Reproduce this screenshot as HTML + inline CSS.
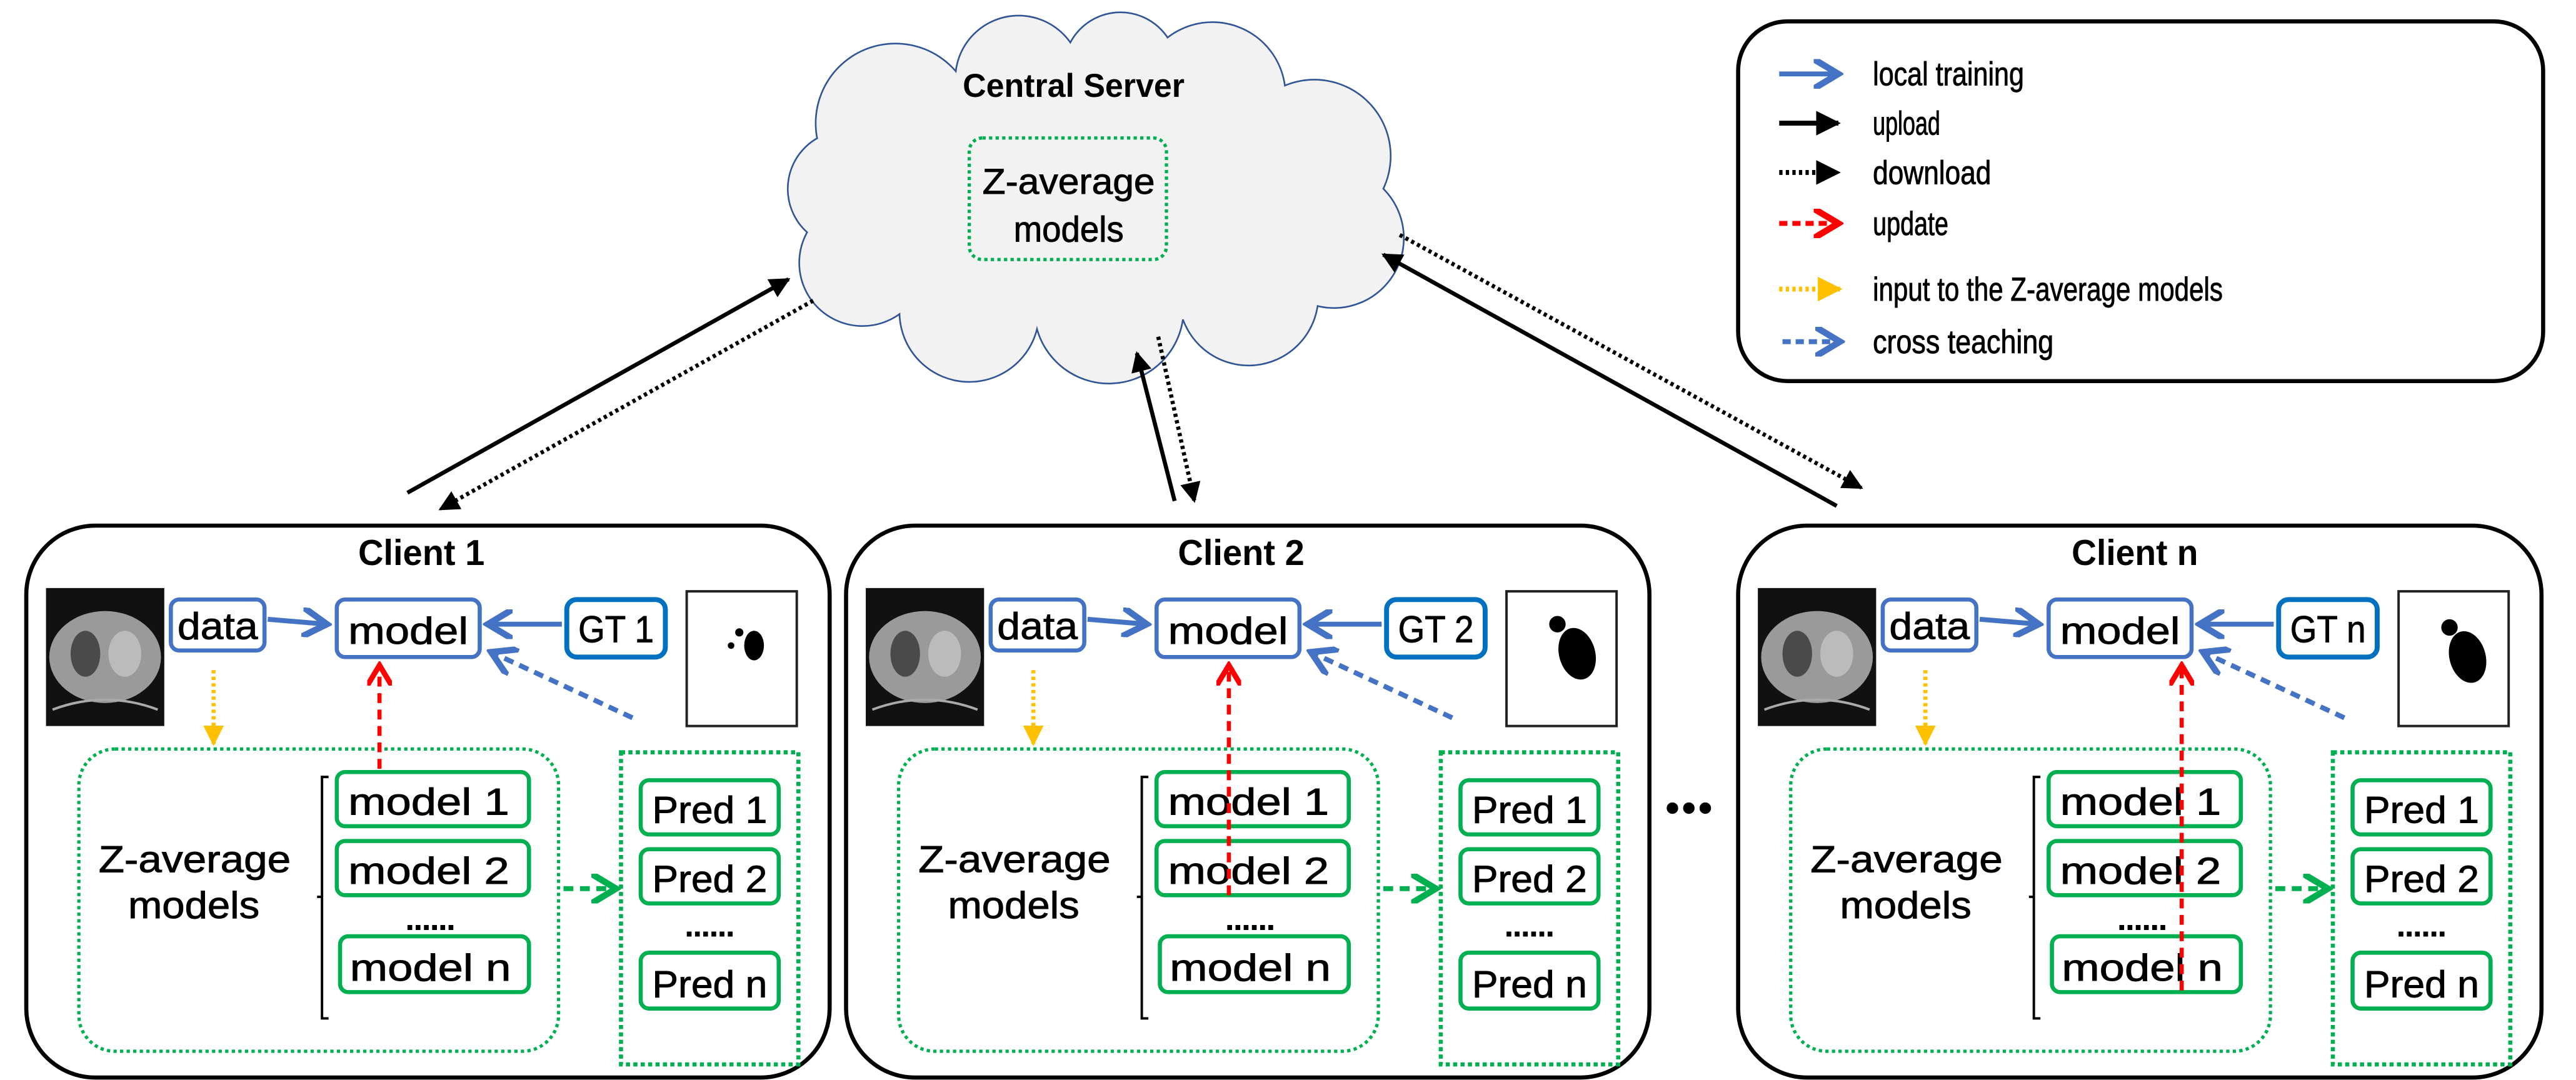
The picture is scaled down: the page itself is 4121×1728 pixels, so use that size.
<!DOCTYPE html>
<html><head><meta charset="utf-8"><style>
html,body{margin:0;padding:0;background:#fff}
svg{display:block}
text{font-family:"Liberation Sans",sans-serif;fill:#000;stroke:#000;stroke-width:0.35}
.t{font-weight:bold;stroke-width:0}
</style></head><body>
<svg width="4121" height="1728" viewBox="0 0 1568 657.5" preserveAspectRatio="none" xmlns="http://www.w3.org/2000/svg">
<defs>
<marker id="ab" markerWidth="6" markerHeight="6" refX="5" refY="3" orient="auto" markerUnits="strokeWidth"><path d="M0,0 L5,3 L0,6" fill="none" stroke="#4472C4" stroke-width="1.3"/></marker>
<marker id="ak" markerWidth="5" markerHeight="5" refX="4.5" refY="2.5" orient="auto" markerUnits="strokeWidth"><path d="M0,0 L5,2.5 L0,5 z" fill="#000"/></marker>
<marker id="ar" markerWidth="6" markerHeight="6" refX="5" refY="3" orient="auto" markerUnits="strokeWidth"><path d="M0,0 L5,3 L0,6" fill="none" stroke="#f00" stroke-width="1.3"/></marker>
<marker id="ay" markerWidth="5" markerHeight="5" refX="4.5" refY="2.5" orient="auto" markerUnits="strokeWidth"><path d="M0,0 L5,2.5 L0,5 z" fill="#FFC000"/></marker>
<marker id="ag" markerWidth="6" markerHeight="6" refX="5" refY="3" orient="auto" markerUnits="strokeWidth"><path d="M0,0 L5,3 L0,6" fill="none" stroke="#00B050" stroke-width="1.3"/></marker>
</defs>

<g stroke="#2F5597" stroke-width="2" fill="#2F5597">
<circle cx="545" cy="75" r="48"/><circle cx="620" cy="48" r="38"/><circle cx="682" cy="42" r="34"/><circle cx="738" cy="58" r="44"/><circle cx="800" cy="95" r="46"/><circle cx="812" cy="145" r="42"/><circle cx="760" cy="180" r="42"/><circle cx="675" cy="188" r="45"/><circle cx="590" cy="190" r="42"/><circle cx="525" cy="160" r="38"/><circle cx="515" cy="115" r="35"/>
</g>
<g fill="#f2f2f2">
<circle cx="545" cy="75" r="48"/><circle cx="620" cy="48" r="38"/><circle cx="682" cy="42" r="34"/><circle cx="738" cy="58" r="44"/><circle cx="800" cy="95" r="46"/><circle cx="812" cy="145" r="42"/><circle cx="760" cy="180" r="42"/><circle cx="675" cy="188" r="45"/><circle cx="590" cy="190" r="42"/><circle cx="525" cy="160" r="38"/><circle cx="515" cy="115" r="35"/><ellipse cx="665" cy="120" rx="150" ry="80"/>
</g>
<text class="t" x="586" y="59" font-size="20" textLength="135" lengthAdjust="spacingAndGlyphs">Central Server</text>
<rect x="590" y="84" width="120" height="74" rx="8" fill="none" stroke="#00B050" stroke-width="2" stroke-dasharray="2,2"/>
<text x="598" y="118" font-size="22" textLength="105" lengthAdjust="spacingAndGlyphs">Z-average</text>
<text x="617" y="147" font-size="22" textLength="67" lengthAdjust="spacingAndGlyphs">models</text>

<rect x="1058" y="13" width="490" height="219" rx="30" fill="#fff" stroke="#000" stroke-width="2.5"/>
<line x1="1083" y1="45" x2="1119" y2="45" stroke="#4472C4" stroke-width="3" marker-end="url(#ab)"/>
<text x="1140" y="52" font-size="20" textLength="92" lengthAdjust="spacingAndGlyphs">local training</text>
<line x1="1083" y1="75" x2="1119" y2="75" stroke="#000" stroke-width="3" marker-end="url(#ak)"/>
<text x="1140" y="82" font-size="20" textLength="41" lengthAdjust="spacingAndGlyphs">upload</text>
<line x1="1083" y1="105" x2="1119" y2="105" stroke="#000" stroke-width="3" stroke-dasharray="2,2" marker-end="url(#ak)"/>
<text x="1140" y="112" font-size="20" textLength="72" lengthAdjust="spacingAndGlyphs">download</text>
<line x1="1083" y1="136" x2="1119" y2="136" stroke="#f00" stroke-width="3" stroke-dasharray="5,3" marker-end="url(#ar)"/>
<text x="1140" y="143" font-size="20" textLength="46" lengthAdjust="spacingAndGlyphs">update</text>
<line x1="1083" y1="176" x2="1120" y2="176" stroke="#FFC000" stroke-width="3" stroke-dasharray="2,2" marker-end="url(#ay)"/>
<text x="1140" y="183" font-size="20" textLength="213" lengthAdjust="spacingAndGlyphs">input to the Z-average models</text>
<line x1="1085" y1="208" x2="1120" y2="208" stroke="#4472C4" stroke-width="3" stroke-dasharray="5,3" marker-end="url(#ab)"/>
<text x="1140" y="215" font-size="20" textLength="110" lengthAdjust="spacingAndGlyphs">cross teaching</text>

<line x1="248" y1="300" x2="480" y2="170" stroke="#000" stroke-width="2.5" marker-end="url(#ak)"/>
<line x1="495" y1="183" x2="268" y2="310" stroke="#000" stroke-width="2.5" stroke-dasharray="2,2" marker-end="url(#ak)"/>
<line x1="715" y1="305" x2="692" y2="215" stroke="#000" stroke-width="2.5" marker-end="url(#ak)"/>
<line x1="705" y1="205" x2="727" y2="305" stroke="#000" stroke-width="2.5" stroke-dasharray="2,2" marker-end="url(#ak)"/>
<line x1="1118" y1="308" x2="842" y2="155" stroke="#000" stroke-width="2.5" marker-end="url(#ak)"/>
<line x1="852" y1="143" x2="1133" y2="297" stroke="#000" stroke-width="2.5" stroke-dasharray="2,2" marker-end="url(#ak)"/>

<g fill="#000"><circle cx="1018" cy="492" r="3.5"/><circle cx="1028" cy="492" r="3.5"/><circle cx="1038" cy="492" r="3.5"/></g>

<g id="c1">
<rect x="16" y="320" width="489" height="336" rx="42" fill="#fff" stroke="#000" stroke-width="2.5"/>
<rect x="28" y="358" width="72" height="84" fill="#111"/>
<ellipse cx="64" cy="400" rx="34" ry="28" fill="#9a9a9a"/>
<ellipse cx="52" cy="398" rx="9" ry="14" fill="#4a4a4a"/><ellipse cx="76" cy="398" rx="10" ry="14" fill="#bbb"/>
<path d="M32,432 Q64,420 96,432" fill="none" stroke="#aaa" stroke-width="1.5"/>
<rect x="104" y="365" width="57" height="31" rx="5" fill="#fff" stroke="#4472C4" stroke-width="2.5"/>
<text x="108" y="389" font-size="23" textLength="49" lengthAdjust="spacingAndGlyphs">data</text>
<rect x="205" y="365" width="87" height="35" rx="5" fill="#fff" stroke="#4472C4" stroke-width="2.5"/>
<text x="212" y="392" font-size="23" textLength="73" lengthAdjust="spacingAndGlyphs">model</text>
<rect x="345" y="365" width="60" height="35" rx="6" fill="#fff" stroke="#0070C0" stroke-width="3"/>
<rect x="418" y="360" width="67" height="82" fill="#fff" stroke="#222" stroke-width="1.5"/>
<line x1="163" y1="377" x2="199" y2="380" stroke="#4472C4" stroke-width="3" marker-end="url(#ab)"/>
<line x1="342" y1="380" x2="297" y2="380" stroke="#4472C4" stroke-width="3" marker-end="url(#ab)"/>
<line x1="385" y1="437" x2="299" y2="397" stroke="#4472C4" stroke-width="3" stroke-dasharray="6,4" marker-end="url(#ab)"/>
<line x1="130" y1="408" x2="130" y2="453" stroke="#FFC000" stroke-width="2.5" stroke-dasharray="2,2" marker-end="url(#ay)"/>
<rect x="48" y="456" width="292" height="184" rx="22" fill="none" stroke="#00B050" stroke-width="2" stroke-dasharray="2,2"/>
<text x="60" y="531" font-size="23" textLength="117" lengthAdjust="spacingAndGlyphs">Z-average</text>
<text x="78" y="559" font-size="23" textLength="80" lengthAdjust="spacingAndGlyphs">models</text>
<path d="M200,473 h-4 v147 h4 M196,546 h-3" fill="none" stroke="#000" stroke-width="1.5"/>
<rect x="205" y="470" width="117" height="33" rx="5" fill="#fff" stroke="#00B050" stroke-width="2.5"/>
<text x="212" y="496" font-size="23" textLength="98" lengthAdjust="spacingAndGlyphs">model 1</text>
<rect x="205" y="512" width="117" height="33" rx="5" fill="#fff" stroke="#00B050" stroke-width="2.5"/>
<text x="212" y="538" font-size="23" textLength="98" lengthAdjust="spacingAndGlyphs">model 2</text>
<text x="262" y="566" font-size="18" font-weight="bold" text-anchor="middle">......</text>
<rect x="207" y="570" width="115" height="34" rx="5" fill="#fff" stroke="#00B050" stroke-width="2.5"/>
<text x="213" y="597" font-size="23" textLength="98" lengthAdjust="spacingAndGlyphs">model n</text>
<line x1="343" y1="541" x2="375" y2="541" stroke="#00B050" stroke-width="3" stroke-dasharray="6,4" marker-end="url(#ag)"/>
<rect x="378" y="458" width="108" height="190" fill="none" stroke="#00B050" stroke-width="2.5" stroke-dasharray="2.5,2"/>
<rect x="390" y="475" width="84" height="33" rx="5" fill="#fff" stroke="#00B050" stroke-width="2.5"/>
<text x="397" y="501" font-size="23" textLength="70" lengthAdjust="spacingAndGlyphs">Pred 1</text>
<rect x="390" y="517" width="84" height="33" rx="5" fill="#fff" stroke="#00B050" stroke-width="2.5"/>
<text x="397" y="543" font-size="23" textLength="70" lengthAdjust="spacingAndGlyphs">Pred 2</text>
<text x="432" y="570" font-size="18" font-weight="bold" text-anchor="middle">......</text>
<rect x="390" y="580" width="84" height="34" rx="5" fill="#fff" stroke="#00B050" stroke-width="2.5"/>
<text x="397" y="607" font-size="23" textLength="70" lengthAdjust="spacingAndGlyphs">Pred n</text>
</g>
<use href="#c1" x="499"/>
<use href="#c1" x="1042"/>

<text class="t" x="218" y="344" font-size="22" textLength="77" lengthAdjust="spacingAndGlyphs">Client 1</text>
<text class="t" x="717" y="344" font-size="22" textLength="77" lengthAdjust="spacingAndGlyphs">Client 2</text>
<text class="t" x="1261" y="344" font-size="22" textLength="77" lengthAdjust="spacingAndGlyphs">Client n</text>
<text x="352" y="391" font-size="23" textLength="46" lengthAdjust="spacingAndGlyphs">GT 1</text>
<text x="851" y="391" font-size="23" textLength="46" lengthAdjust="spacingAndGlyphs">GT 2</text>
<text x="1394" y="391" font-size="23" textLength="46" lengthAdjust="spacingAndGlyphs">GT n</text>
<ellipse cx="459" cy="393" rx="6" ry="9" fill="#000"/><circle cx="450" cy="385" r="2.5" fill="#000"/><circle cx="445" cy="393" r="2" fill="#000"/>
<ellipse cx="960" cy="398" rx="11" ry="16" fill="#000" transform="rotate(-15 960 398)"/><circle cx="948" cy="380" r="5" fill="#000"/>
<ellipse cx="1502" cy="400" rx="11" ry="16" fill="#000" transform="rotate(-15 1502 400)"/><circle cx="1491" cy="382" r="5" fill="#000"/>
<line x1="231" y1="468" x2="231" y2="405" stroke="#f00" stroke-width="2.5" stroke-dasharray="6,4" marker-end="url(#ar)"/>
<line x1="748" y1="545" x2="748" y2="405" stroke="#f00" stroke-width="2.5" stroke-dasharray="6,4" marker-end="url(#ar)"/>
<line x1="1328" y1="603" x2="1328" y2="405" stroke="#f00" stroke-width="2.5" stroke-dasharray="6,4" marker-end="url(#ar)"/>
</svg>
</body></html>
